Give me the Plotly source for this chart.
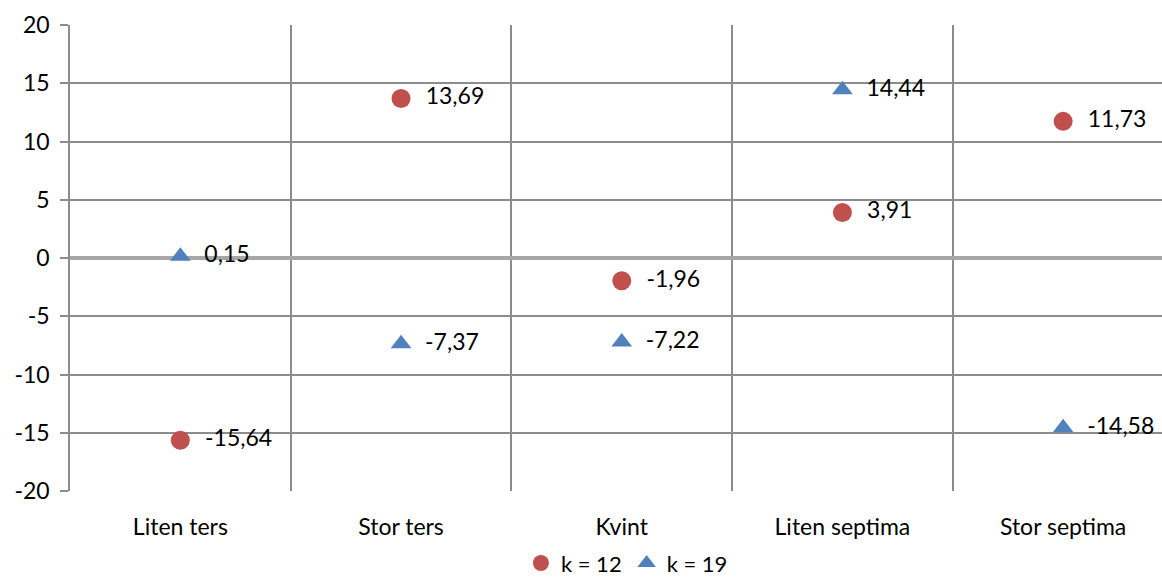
import plotly.graph_objects as go

categories = ["Liten ters", "Stor ters", "Kvint", "Liten septima", "Stor septima"]
k12_values = [-15.64, 13.69, -1.96, 3.91, 11.73]
k19_values = [0.15, -7.37, -7.22, 14.44, -14.58]
y_ticks = [-20, -15, -10, -5, 0, 5, 10, 15, 20]

RED = "#C0504D"
BLUE = "#4F81BD"
GRID = "#8C8C8C"
FONT = "Lato, 'Open Sans', sans-serif"
FS = 23

x_pos = list(range(len(categories)))


def fmt(v):
    return "  " + f"{v:.2f}".replace(".", ",")


fig = go.Figure()
fig.add_trace(go.Scatter(
    x=x_pos, y=k12_values, mode="markers+text", name="k = 12",
    marker=dict(symbol="circle", size=19, color=RED),
    text=[fmt(v) for v in k12_values], textposition="middle right",
    textfont=dict(size=FS, color="#000000", family=FONT),
    cliponaxis=False,
))
fig.add_trace(go.Scatter(
    x=x_pos, y=k19_values, mode="markers+text", name="k = 19",
    marker=dict(symbol="triangle-up", size=18, color=BLUE),
    text=[fmt(v) for v in k19_values], textposition="middle right",
    textfont=dict(size=FS, color="#000000", family=FONT),
    cliponaxis=False,
))

fig.update_layout(
    width=1162, height=578,
    margin=dict(l=70, r=0, t=25, b=87, autoexpand=False),
    paper_bgcolor="white", plot_bgcolor="white",
    font=dict(family=FONT, size=FS, color="#000000"),
    showlegend=True,
    legend=dict(orientation="h", x=0.51, xanchor="center", y=-0.155, yanchor="middle",
                font=dict(size=22), itemwidth=30, tracegroupgap=0),
    xaxis=dict(
        range=[-0.5, 4.448], tickvals=x_pos, ticktext=categories,
        showgrid=False, zeroline=False, showline=False, ticks="",
        tickfont=dict(size=FS), ticklabelstandoff=20,
        minor=dict(tickvals=[0.5, 1.5, 2.5, 3.5], showgrid=True, gridcolor=GRID, gridwidth=1.5),
    ),
    yaxis=dict(
        range=[-20, 20], tickvals=y_ticks, ticktext=[str(v) for v in y_ticks],
        showgrid=True, gridcolor=GRID, gridwidth=1.5,
        zeroline=True, zerolinecolor="#A6A6A6", zerolinewidth=3.5,
        showline=True, linecolor=GRID, linewidth=1.5,
        ticks="outside", ticklen=8, tickcolor=GRID, tickwidth=1.5,
        tickfont=dict(size=FS), ticklabelstandoff=6,
    ),
)

fig.write_html("out.html")
